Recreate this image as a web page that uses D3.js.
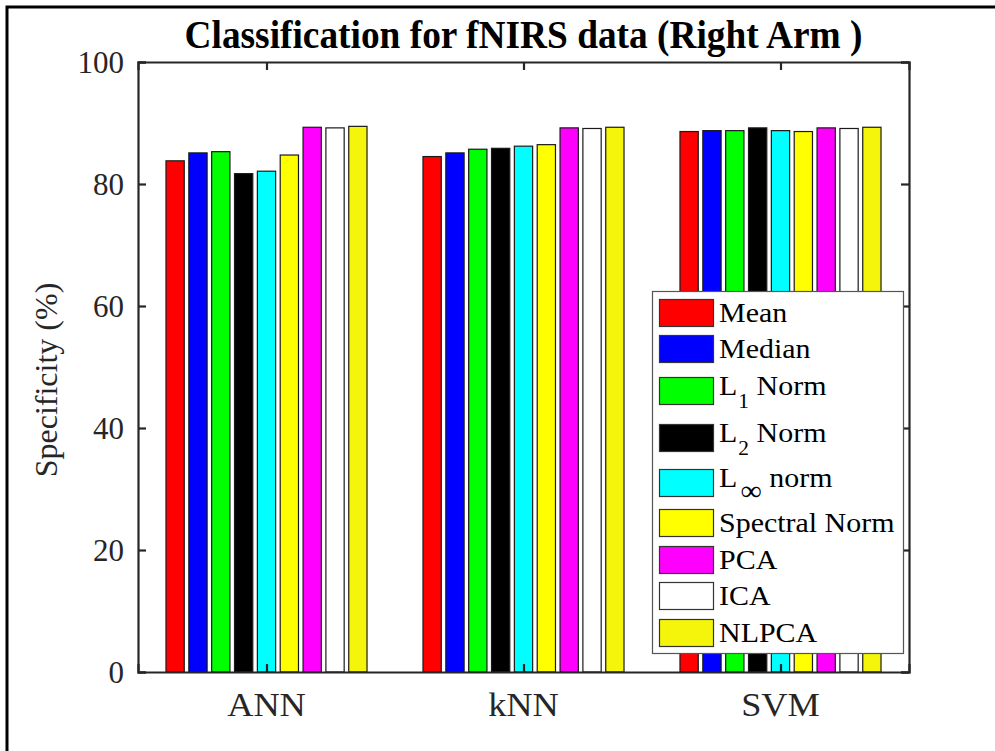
<!DOCTYPE html>
<html>
<head>
<meta charset="utf-8">
<script src="https://cdn.jsdelivr.net/npm/d3@7"></script>
<style>
  html, body { margin: 0; padding: 0; background: #fff; }
  svg { display: block; }
  text { font-family: "Liberation Serif", "Times New Roman", serif; }
</style>
</head>
<body>
<svg id="chart" width="995" height="751"></svg>
<script>
// Classifiers on the x axis
const categories = ["ANN", "kNN", "SVM"];

// Feature sets (one bar per feature set inside each classifier group)
const seriesNames = ["Mean", "Median", "L1 Norm", "L2 Norm", "L∞ norm", "Spectral Norm", "PCA", "ICA", "NLPCA"];
const seriesColors = ["#ff0000", "#0000ff", "#00ff00", "#000000", "#00ffff", "#ffff00", "#ff00ff", "#ffffff", "#f5f50c"];

// Specificity (%) per feature set, ordered ANN, kNN, SVM
const meanVals     = [83.8, 84.5, 88.6];
const medianVals   = [85.1, 85.1, 88.75];
const l1Vals       = [85.3, 85.7, 88.75];
const l2Vals       = [81.7, 85.85, 89.2];
const lInfVals     = [82.1, 86.2, 88.75];
const spectralVals = [84.75, 86.45, 88.6];
const pcaVals      = [89.3, 89.2, 89.2];
const icaVals      = [89.2, 89.1, 89.1];
const nlpcaVals    = [89.45, 89.3, 89.3];

const yTicks = [0, 20, 40, 60, 80, 100];

const series = [meanVals, medianVals, l1Vals, l2Vals, lInfVals, spectralVals, pcaVals, icaVals, nlpcaVals];

const svg = d3.select("#chart");
const W = 995, H = 751;
const plot = { left: 138, right: 909, top: 62, bottom: 672 };
const axisColor = "#262626";

// Figure frame
svg.append("path")
  .attr("d", `M7,${H + 5} L7,7 L${W + 5},7`)
  .attr("fill", "none").attr("stroke", "#000").attr("stroke-width", 3);

// Scales
const x = d3.scaleLinear().domain([0.5, categories.length + 0.5]).range([plot.left, plot.right]);
const y = d3.scaleLinear().domain([0, 100]).range([plot.bottom, plot.top]);

const nBars = series.length;
const groupWidth = Math.min(0.8, nBars / (nBars + 1.5));
const slot = groupWidth / nBars;
const barW = slot * 0.8;

// Bars
const barData = [];
series.forEach((vals, s) => {
  vals.forEach((v, c) => {
    barData.push({ s, c, v, xc: (c + 1) - groupWidth / 2 + slot * (s + 0.5) });
  });
});

svg.append("g").selectAll("rect").data(barData).join("rect")
  .attr("x", d => x(d.xc - barW / 2))
  .attr("width", d => x(d.xc + barW / 2) - x(d.xc - barW / 2))
  .attr("y", d => y(d.v))
  .attr("height", d => y(0) - y(d.v))
  .attr("fill", d => seriesColors[d.s])
  .attr("stroke", "#1a1a1a")
  .attr("stroke-width", 1.2);

// Axes box with inward ticks
const tickLen = 8;
const axes = svg.append("g");
const yLeft = d3.axisRight(y).tickValues(yTicks).tickSize(tickLen).tickFormat("");
const yRight = d3.axisLeft(y).tickValues(yTicks).tickSize(tickLen).tickFormat("");
const xBottom = d3.axisTop(x).tickValues([1, 2, 3]).tickSize(tickLen).tickFormat("");
const xTop = d3.axisBottom(x).tickValues([1, 2, 3]).tickSize(tickLen).tickFormat("");

axes.append("g").attr("transform", `translate(${plot.left},0)`).call(yLeft);
axes.append("g").attr("transform", `translate(${plot.right},0)`).call(yRight);
axes.append("g").attr("transform", `translate(0,${plot.bottom})`).call(xBottom);
axes.append("g").attr("transform", `translate(0,${plot.top})`).call(xTop);
axes.selectAll("path.domain").attr("stroke", axisColor).attr("stroke-width", 2.2);
axes.selectAll(".tick line").attr("stroke", axisColor).attr("stroke-width", 2.2);

// Tick labels
svg.append("g").selectAll("text").data(yTicks).join("text")
  .attr("x", plot.left - 14)
  .attr("y", d => y(d))
  .attr("dy", "0.35em")
  .attr("text-anchor", "end")
  .attr("font-size", 31)
  .attr("fill", axisColor)
  .text(d => d);

svg.append("g").selectAll("text").data(categories).join("text")
  .attr("transform", (d, i) => `translate(${x(i + 1)},716) scale(1.1,1)`)
  .attr("text-anchor", "middle")
  .attr("font-size", 33)
  .attr("fill", axisColor)
  .text(d => d);

// Axis label
svg.append("text")
  .attr("transform", `translate(57,380) rotate(-90)`)
  .attr("text-anchor", "middle")
  .attr("font-size", 32)
  .attr("fill", axisColor)
  .text("Specificity (%)");

// Title
svg.append("text")
  .attr("transform", `translate(${(plot.left + plot.right) / 2},48) scale(1.01,1.08)`)
  .attr("text-anchor", "middle")
  .attr("font-size", 37)
  .attr("font-weight", "bold")
  .attr("fill", "#000")
  .text("Classification for fNIRS data (Right Arm )");

// Legend
const legend = svg.append("g");
legend.append("rect")
  .attr("x", 652.5).attr("y", 291.5).attr("width", 251).attr("height", 362)
  .attr("fill", "#fff").attr("stroke", "#555").attr("stroke-width", 1.2);

const rowY = [313, 349, 391, 438, 483, 523, 560, 596, 633];
const labelParts = [
  ["Mean"], ["Median"], ["L", "1", " Norm"], ["L", "2", " Norm"], ["L", "∞", " norm"],
  ["Spectral Norm"], ["PCA"], ["ICA"], ["NLPCA"]
];

seriesNames.forEach((name, i) => {
  const g = legend.append("g").attr("transform", `translate(0,${rowY[i]})`);
  g.append("rect")
    .attr("x", 659.5).attr("y", -13.5).attr("width", 54).attr("height", 27)
    .attr("fill", seriesColors[i]).attr("stroke", "#333").attr("stroke-width", 1.2);
  const parts = labelParts[i];
  const base = parts.length === 1 ? 9 : 3.5;
  const t = g.append("text")
    .attr("transform", `translate(719,${base}) scale(1.07,1)`)
    .attr("font-size", 28)
    .attr("fill", "#000");
  if (parts.length === 1) {
    t.text(parts[0]);
  } else {
    const isInf = parts[1] === "∞";
    t.append("tspan").text(parts[0]);
    t.append("tspan").attr("dy", 13).attr("dx", isInf ? 3 : 1)
      .attr("font-size", isInf ? 28 : 20).text(parts[1]);
    t.append("tspan").attr("dy", -13).attr("font-size", 28).text(parts[2]);
  }
});
</script>
</body>
</html>
